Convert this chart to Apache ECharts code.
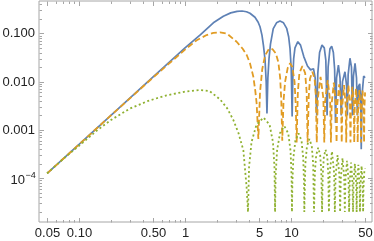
<!DOCTYPE html>
<html><head><meta charset="utf-8">
<script src="https://cdn.jsdelivr.net/npm/echarts@6/dist/echarts.min.js"></script>
<style>html,body{margin:0;padding:0;background:#fff}#c{width:374px;height:241px}</style>
</head><body><div id="c"></div>
<script>
// ---- data ----
const blueX = [0.05,0.1,0.2,0.5,1.0,1.4,1.85,2.3,2.7,3.1,3.45,3.8,4.1,4.57,4.9,5.1,5.32,5.5,5.69,5.83,5.93,
  6.05,6.2,6.4,6.8,7.3,7.87,8.5,9.1,9.5,9.79,10.05,10.25,
  10.4,10.6,10.9,11.6,12.3,13.2,14.3,15.3,16.3,16.9,17.5,
  17.9,18.6,19.6,20.6,21.3,21.9,22.4,23.3,24.2,25.1,25.8,26.3,
  26.9,28.0,29.0,29.8,30.6,32.3,33.5,34.0,34.6,36.0,37.2,38.0,38.8,40.2,41.5,42.3,43.3,44.5,45.5,46.0,46.7,48.5,50];
const blueY = [1.26e-4,5.0e-4,2.0e-3,1.25e-2,0.05,0.094,0.165,0.225,0.265,0.285,0.29,0.28,0.26,0.215,0.17,0.137,0.092,0.055,0.028,0.01,0.0022,
  0.012,0.03,0.06,0.125,0.165,0.18,0.165,0.127,0.085,0.048,0.018,0.0019,
  0.012,0.03,0.05,0.067,0.057,0.033,0.021,0.0175,0.0185,0.012,0.002,
  0.015,0.04,0.057,0.05,0.028,0.002,0.02,0.048,0.054,0.04,0.018,0.0014,
  0.012,0.022,0.012,0.002,0.01,0.016,0.008,0.002,0.014,0.0305,0.02,0.002,0.013,0.024,0.012,0.002,0.008,0.009,0.004,0.0004,0.005,0.0131,0.012];

const orangeX = [0.05,0.1,0.2,0.5,1.0,1.29,1.6,1.85,2.14,2.5,3.07,3.5,3.82,4.1,4.41,4.6,4.74,4.92,
  5.1,5.35,5.7,6.2,6.7,7.2,7.6,7.9,8.1,8.27,
  8.5,8.8,9.3,9.8,10.3,10.8,11.1,11.3,
  11.6,12.0,12.8,13.6,14.05,14.35,
  14.7,15.1,15.9,16.7,17.15,17.5,
  17.9,19.0,20.2,20.6, 21.0,22.2,23.4,23.8, 24.2,25.35,26.5,26.9, 27.3,28.5,29.7,30.1,
  30.5,31.65,32.8,33.2, 33.6,34.8,36.0,36.4, 36.8,37.95,39.1,39.5, 39.9,41.05,42.2,42.6,
  43.0,44.2,45.4,45.8, 46.2,47.35,48.5,48.9, 49.3,50];
const orangeY = [1.26e-4,5.0e-4,2.0e-3,1.22e-2,0.046,0.072,0.092,0.102,0.105,0.098,0.067,0.048,0.0356,0.024,0.0127,0.0065,0.0035,0.00065,
  0.006,0.018,0.035,0.048,0.047,0.038,0.025,0.012,0.004,0.0006,
  0.004,0.01,0.019,0.024,0.02,0.01,0.003,0.00055,
  0.006,0.015,0.021,0.015,0.006,0.00055,
  0.005,0.0115,0.016,0.0115,0.005,0.00055,
  0.0045,0.0126,0.0045,0.00055, 0.004,0.0108,0.004,0.00055, 0.0035,0.0095,0.0035,0.00055, 0.0033,0.0088,0.0033,0.00055,
  0.0032,0.0085,0.0032,0.00055, 0.0032,0.0085,0.0032,0.00055, 0.003,0.0078,0.003,0.00055, 0.0028,0.0072,0.0028,0.00055,
  0.0026,0.0067,0.0026,0.00055, 0.0025,0.0065,0.0025,0.00055, 0.003,0.006];

const greenX = [0.05,0.07,0.1,0.15,0.2,0.3,0.45,0.67,1.0,1.385,1.7,2.14,2.5,2.86,3.2,3.55,3.81,3.93,
  4.02,4.24,4.72,5.5,6.28,6.76,6.98,7.07,
  7.16,7.38,7.86,8.64,9.42,9.9,10.12,10.21,
  10.3,10.52,11.0,11.78,12.57,13.04,13.26,13.35,
  13.66,14.14,14.92,15.7,16.18,16.49,
  16.8,17.28,18.06,18.85,19.32,19.63,
  19.94,20.42,21.2,21.99,22.47,22.78,
  23.2,24.35,25.5,25.92, 26.34,27.5,28.64,29.06, 29.5,30.63,31.78,32.2, 32.6,33.77,34.9,35.34,
  35.8,36.9,38.0,38.48, 38.9,40.05,41.2,41.62, 42.0,43.2,44.35,44.77, 45.2,46.34,47.5,47.91, 48.3,49.2,50];
const greenY = [1.26e-4,2.45e-4,4.7e-4,1.0e-3,1.6e-3,2.75e-3,4.0e-3,5.2e-3,6.2e-3,6.7e-3,6.4e-3,4.3e-3,2.8e-3,1.6e-3,8.5e-4,3.8e-4,6.6e-5,2e-5,
  1.7e-4,5.6e-4,1.28e-3,1.8e-3,1.28e-3,5.6e-4,1.7e-4,2e-5,
  1.1e-4,3.7e-4,8.5e-4,1.2e-3,8.5e-4,3.7e-4,1.1e-4,2e-5,
  8e-5,2.6e-4,6e-4,8.5e-4,6e-4,2.6e-4,8e-5,2e-5,
  2.0e-4,4.6e-4,6.5e-4,4.6e-4,2.0e-4,2e-5,
  1.35e-4,3.0e-4,4.3e-4,3.0e-4,1.35e-4,2e-5,
  1.2e-4,2.8e-4,3.9e-4,2.8e-4,1.2e-4,2e-5,
  1.3e-4,3.6e-4,1.3e-4,2e-5, 1.1e-4,3.0e-4,1.1e-4,2e-5, 1.0e-4,2.6e-4,1.0e-4,2e-5, 9e-5,2.3e-4,9e-5,2e-5,
  8e-5,2.1e-4,8e-5,2e-5, 8e-5,2.0e-4,8e-5,2e-5, 7.5e-5,1.9e-4,7.5e-5,2e-5, 7e-5,1.8e-4,7e-5,2e-5, 6.5e-5,1.4e-4,1.6e-4];

const xMajor = [0.05,0.1,0.5,1,5,10,50];
const xMajorLabels = ['0.05','0.10','0.50','1','5','10','50'];
const xMinor = [0.06,0.07,0.08,0.09,0.2,0.3,0.4,0.6,0.7,0.8,0.9,2,3,4,6,7,8,9,20,30,40];
const yMajor = [1e-4,1e-3,1e-2,1e-1];
const yMajorLabels = ['0.001','0.010','0.100'];
const yMinor = [2e-5,3e-5,4e-5,5e-5,6e-5,7e-5,8e-5,9e-5,2e-4,3e-4,4e-4,5e-4,6e-4,7e-4,8e-4,9e-4,
  2e-3,3e-3,4e-3,5e-3,6e-3,7e-3,8e-3,9e-3,2e-2,3e-2,4e-2,5e-2,6e-2,7e-2,8e-2,9e-2,0.2,0.3,0.4];

const pairs = (xs, ys) => xs.map((x, i) => [x, ys[i]]);
const frameColor = '#a6a6a6';
const textColor = '#222';
const FONT = '13px "Liberation Sans", Arial, sans-serif';

const chart = echarts.init(document.getElementById('c'), null, {renderer: 'canvas'});
chart.setOption({
  animation: false,
  grid: {left: 39, right: 2, top: 1, bottom: 19, show: true, borderColor: frameColor, borderWidth: 1, backgroundColor: 'transparent'},
  xAxis: {type: 'log', logBase: 10, min: 0.0419, max: 58.1,
    axisLine: {show: false}, axisTick: {show: false}, axisLabel: {show: false}, splitLine: {show: false}},
  yAxis: {type: 'log', logBase: 10, min: 1.24e-5, max: 0.467,
    axisLine: {show: false}, axisTick: {show: false}, axisLabel: {show: false}, splitLine: {show: false}},
  series: [
    {type: 'line', data: pairs(blueX, blueY), showSymbol: false, clip: true,
      lineStyle: {color: '#5E81B5', width: 1.7}},
    {type: 'line', data: pairs(orangeX, orangeY), showSymbol: false, clip: true,
      lineStyle: {color: '#E19C24', width: 1.8, type: [6, 3]}},
    {type: 'line', data: pairs(greenX, greenY), showSymbol: false, clip: true,
      lineStyle: {color: '#8FB131', width: 1.8, type: [2, 2.6], cap: 'butt'}}
  ]
});

const g = [];
const L = 39, R = 372, T = 1, B = 222;
function px(v) { return chart.convertToPixel({xAxisIndex: 0}, v); }
function py(v) { return chart.convertToPixel({yAxisIndex: 0}, v); }
function tickX(v, len) {
  const x = Math.round(px(v)) + 0.5;
  g.push({type: 'line', silent: true, shape: {x1: x, y1: B + 0.5, x2: x, y2: B + 0.5 - len}, style: {stroke: frameColor, lineWidth: 1}});
  g.push({type: 'line', silent: true, shape: {x1: x, y1: T + 0.5, x2: x, y2: T + 0.5 + len}, style: {stroke: frameColor, lineWidth: 1}});
  return x;
}
function tickY(v, len) {
  const y = Math.round(py(v)) + 0.5;
  g.push({type: 'line', silent: true, shape: {x1: L + 0.5, y1: y, x2: L + 0.5 + len, y2: y}, style: {stroke: frameColor, lineWidth: 1}});
  g.push({type: 'line', silent: true, shape: {x1: R + 0.5, y1: y, x2: R + 0.5 - len, y2: y}, style: {stroke: frameColor, lineWidth: 1}});
  return y;
}
xMinor.forEach(v => tickX(v, 2.5));
yMinor.forEach(v => tickY(v, 2.5));
xMajor.forEach((v, i) => {
  const x = tickX(v, 4.5);
  g.push({type: 'text', silent: true, x: x, y: 227,
    style: {text: xMajorLabels[i], font: FONT, fill: textColor, align: 'center', textAlign: 'center', verticalAlign: 'top', textVerticalAlign: 'top'}});
});
yMajor.forEach((v, i) => {
  const y = tickY(v, 4.5);
  if (i === 0) {
    g.push({type: 'text', silent: true, x: 25, y: y + 1.5,
      style: {text: '10', font: FONT, fill: textColor, align: 'right', textAlign: 'right', verticalAlign: 'middle', textVerticalAlign: 'middle'}});
    g.push({type: 'text', silent: true, x: 25.5, y: y - 3,
      style: {text: '\u22124', font: '9px "Liberation Sans", Arial, sans-serif', fill: textColor, align: 'left', textAlign: 'left', verticalAlign: 'middle', textVerticalAlign: 'middle'}});
  } else {
    g.push({type: 'text', silent: true, x: 35, y: y,
      style: {text: yMajorLabels[i - 1], font: FONT, fill: textColor, align: 'right', textAlign: 'right', verticalAlign: 'middle', textVerticalAlign: 'middle'}});
  }
});
chart.setOption({graphic: {elements: g}});
</script>
</body></html>
